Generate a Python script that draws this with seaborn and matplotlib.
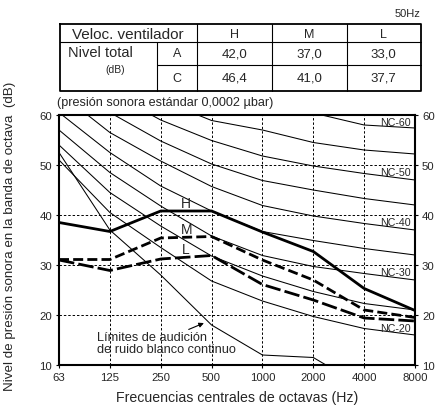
import numpy as np
import pandas as pd
import matplotlib
matplotlib.use("Agg")
import matplotlib.pyplot as plt
import seaborn as sns

# octave band centre frequencies
freq_labels = ["63", "125", "250", "500", "1000", "2000", "4000", "8000"]

# measured spectra (dB) for fan speeds H / M / L
level_h = [38.5, 36.7, 40.8, 40.8, 36.6, 32.7, 25.3, 20.9]
level_m = [31.1, 31.1, 35.4, 35.7, 31.0, 27.0, 21.0, 19.5]
level_l = [31.0, 28.9, 31.2, 31.9, 26.1, 23.0, 19.4, 18.8]

# NC curves (dB per octave band)
nc_names = [20, 25, 30, 35, 40, 45, 50, 55, 60]
nc_values = [
    [51, 40.5, 33.5, 26.8, 22.8, 19.7, 17.3, 16],
    [54, 44.5, 37.8, 31.8, 27.8, 24.7, 22.3, 21],
    [57, 48.5, 41.8, 35.8, 31.9, 29.7, 28.3, 27],
    [60.5, 52.5, 45.8, 40.8, 36.7, 34.9, 33.3, 32],
    [64.5, 56.5, 50.8, 45.7, 41.9, 39.8, 38.3, 37],
    [67.5, 60.5, 54.8, 50.2, 46.9, 45.0, 43.3, 42],
    [71, 64.5, 59.0, 54.9, 51.8, 49.8, 48.3, 47],
    [74, 67.5, 63.0, 58.9, 57.0, 54.5, 53.0, 52.2],
    [77, 71.5, 67.5, 63.8, 62.0, 60.4, 58.0, 57.4],
]
nc_label_y = [17.5, 28.5, 38.5, 48.5, 58.6]   # NC-20 .. NC-60 label heights
nc_label_names = ["NC-20", "NC-30", "NC-40", "NC-50", "NC-60"]

# threshold of hearing for continuous white noise
threshold = [52.5, 37.0, 28.0, 18.0, 12.0, 11.5, 5.5, 3.0]

# overall level table
speed_cols = ["H", "M", "L"]
total_a = ["42,0", "37,0", "33,0"]
total_c = ["46,4", "41,0", "37,7"]

sns.set_style("white")
plt.rcParams["font.family"] = ["Liberation Sans", "DejaVu Sans"]
narrow = ["Liberation Sans Narrow", "Liberation Sans", "DejaVu Sans"]

W, H = 438, 410
fig = plt.figure(figsize=(W / 100, H / 100), dpi=100)

# ---- main chart ----
ax = fig.add_axes([59 / W, 1 - 366 / H, (415 - 59) / W, (366 - 116) / H])
x = np.arange(len(freq_labels))

for vals in nc_values:
    sns.lineplot(x=x, y=vals, ax=ax, color="black", lw=0.75, zorder=2)
sns.lineplot(x=x, y=threshold, ax=ax, color="black", lw=0.75, zorder=2)

df = pd.DataFrame({"x": np.tile(x, 3),
                   "level": level_h + level_m + level_l,
                   "speed": ["H"] * 8 + ["M"] * 8 + ["L"] * 8})
styles = {"H": "-", "M": (0, (3.6, 1.5)), "L": (0, (5.6, 1.5))}
for sp in speed_cols:
    d = df[df["speed"] == sp]
    sns.lineplot(data=d, x="x", y="level", ax=ax, color="black", lw=2.0,
                 linestyle=styles[sp], zorder=4)

ax.set_xlim(0, 7)
ax.set_ylim(10, 60)
ax.set_xticks(x)
ax.set_xticklabels(freq_labels)
ax.set_yticks([10, 20, 30, 40, 50, 60])
ax.tick_params(axis="both", labelsize=8.2, length=2, width=0.8, color="black",
               direction="out", pad=3, right=True, labelright=True, left=True,
               bottom=True)
for lab in ax.get_xticklabels() + ax.get_yticklabels() + ax.yaxis.get_ticklabels(which="major"):
    lab.set_family(narrow)
for t in ax.yaxis.get_major_ticks():
    t.label2.set_family(narrow)
ax.grid(True, color="black", linestyle=(0, (2.5, 2)), lw=0.7)
for s in ax.spines.values():
    s.set_color("black")
    s.set_linewidth(1.5)
ax.set_xlabel("Frecuencias centrales de octavas (Hz)", fontsize=10.2, labelpad=6)
ax.set_ylabel("")
fig.text(10 / W, 1 - 236 / H, "Nivel de presión sonora en la banda de octava  (dB)",
         rotation=90, ha="center", va="center", fontsize=9.6)

for name, yv in zip(nc_label_names, nc_label_y):
    ax.text(6.61, yv, name, fontsize=7.7, ha="center", va="center", zorder=5)

ax.text(2.5, 42.4, "H", fontsize=10, ha="center", va="center", zorder=5)
ax.text(2.5, 37.1, "M", fontsize=10, ha="center", va="center", zorder=5)
ax.text(2.5, 33.1, "L", fontsize=10, ha="center", va="center", zorder=5)

ax.annotate("", xy=(2.90, 18.6), xytext=(2.5, 16.9),
            arrowprops=dict(arrowstyle="-|>", color="black", lw=0.8,
                            mutation_scale=7), zorder=5)
ax.text(0.75, 14.4, "Límites de audición\nde ruido blanco continuo",
        fontsize=9.2, ha="left", va="center", linespacing=0.95, zorder=5)

# ---- table on top ----
tab = fig.add_axes([0, 0, 1, 1], zorder=-1)
tab.set_xlim(0, W)
tab.set_ylim(H, 0)
tab.axis("off")

x0, xa, xb, c1, c2, x1 = 59.5, 156.7, 196.7, 271.7, 346.7, 420.5
y0, y1, y2, y3 = 25, 43.3, 65.5, 92.3
kw = dict(color="black", lw=0.8)
tab.plot([x0, x1, x1, x0, x0], [y0, y0, y3, y3, y0], color="black", lw=1.3)
tab.plot([x0, x1], [y1, y1], **kw)
tab.plot([xa, x1], [y2, y2], **kw)
tab.plot([xa, xa], [y1, y3], **kw)
for cx in [xb, c1, c2]:
    tab.plot([cx, cx], [y0, y3], **kw)

tab.text(x1, 14, "50Hz", fontsize=8, ha="right", va="center")
tab.text((x0 + xb) / 2, (y0 + y1) / 2 + 0.5, "Veloc. ventilador", fontsize=11,
         ha="center", va="center")
tab.text(100, 53, "Nivel total", fontsize=10.5, ha="center", va="center")
tab.text(115, 70, "(dB)", fontsize=7.5, ha="center", va="center")
tab.text((xa + xb) / 2, (y1 + y2) / 2, "A", fontsize=9, ha="center", va="center")
tab.text((xa + xb) / 2, (y2 + y3) / 2, "C", fontsize=9, ha="center", va="center")
col_x = [(xb + c1) / 2, (c1 + c2) / 2, (c2 + x1) / 2]
for cx, sp, va_, vc in zip(col_x, speed_cols, total_a, total_c):
    tab.text(cx, (y0 + y1) / 2 + 0.5, sp, fontsize=9, ha="center", va="center")
    tab.text(cx, (y1 + y2) / 2, va_, fontsize=9.5, ha="center", va="center")
    tab.text(cx, (y2 + y3) / 2, vc, fontsize=9.5, ha="center", va="center")

tab.text(57, 103, "(presión sonora estándar 0,0002 µbar)", fontsize=9.1,
         ha="left", va="center")

fig.savefig("out.png", dpi=100)
